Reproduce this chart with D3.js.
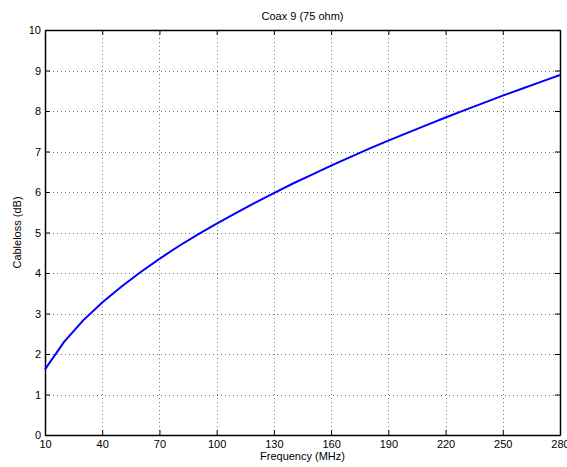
<!DOCTYPE html>
<html><head><meta charset="utf-8">
<script src="https://cdn.jsdelivr.net/npm/d3@7"></script>
<style>
body{margin:0;background:#fff;}
svg{display:block;font-family:"Liberation Sans",Arial,Helvetica,sans-serif;}
</style></head>
<body><svg id="c" width="567" height="467"></svg>
<script>
const freqs = [10,20,30,40,50,60,70,80,90,100,110,120,130,140,150,160,170,180,190,200,210,220,230,240,250,260,270,280];
const loss  = [1.62,2.30,2.83,3.27,3.66,4.02,4.35,4.66,4.95,5.22,5.48,5.73,5.97,6.21,6.43,6.65,6.86,7.07,7.27,7.46,7.65,7.84,8.02,8.20,8.38,8.55,8.72,8.89];
const xTicks = [10,40,70,100,130,160,190,220,250,280];
const yTicks = [0,1,2,3,4,5,6,7,8,9,10];
const title = "Coax 9 (75 ohm)";
const xLabel = "Frequency (MHz)";
const yLabel = "Cableloss (dB)";

const L=45,R=560,T=30,B=435;
const svg=d3.select("#c");
const x=d3.scaleLinear().domain([10,280]).range([L,R]);
const y=d3.scaleLinear().domain([0,10]).range([B,T]);

// grid
const g=svg.append("g");
g.selectAll(".gx").data(xTicks.slice(1,-1)).join("line")
 .attr("x1",d=>Math.round(x(d))+0.5).attr("x2",d=>Math.round(x(d))+0.5)
 .attr("y1",T).attr("y2",B).attr("stroke","#777").attr("stroke-width",1).attr("stroke-dasharray","1,3");
g.selectAll(".gy").data(yTicks.slice(1,-1)).join("line")
 .attr("y1",d=>Math.round(y(d))+0.5).attr("y2",d=>Math.round(y(d))+0.5)
 .attr("x1",L).attr("x2",R).attr("stroke","#777").attr("stroke-width",1).attr("stroke-dasharray","1,3");

// axes (ticks inward)
const ax=svg.append("g").attr("transform",`translate(0,${B})`)
 .call(d3.axisBottom(x).tickValues(xTicks).tickSizeInner(-5).tickSizeOuter(0).tickPadding(5));
const axt=svg.append("g").attr("transform",`translate(0,${T})`)
 .call(d3.axisTop(x).tickValues(xTicks).tickSizeInner(-5).tickSizeOuter(0).tickFormat(""));
const ay=svg.append("g").attr("transform",`translate(${L},0)`)
 .call(d3.axisLeft(y).tickValues(yTicks).tickSizeInner(-5).tickSizeOuter(0).tickPadding(4));
const ayr=svg.append("g").attr("transform",`translate(${R},0)`)
 .call(d3.axisRight(y).tickValues(yTicks).tickSizeInner(-5).tickSizeOuter(0).tickFormat(""));
[ax,axt,ay,ayr].forEach(a=>{
  a.selectAll("path").attr("stroke","#000").attr("stroke-width",1.5);
  a.selectAll("line").attr("stroke","#000").attr("stroke-width",1);
  a.selectAll("text").attr("fill","#000").style("font-size","11px").style("font-family","'Liberation Sans',Arial,sans-serif");
});

// line
svg.append("path").datum(freqs.map((f,i)=>[f,loss[i]]))
 .attr("fill","none").attr("stroke","#0000ff").attr("stroke-width",2)
 .attr("d",d3.line().x(d=>x(d[0])).y(d=>y(d[1])));

// texts
svg.append("text").attr("x",(L+R)/2).attr("y",20).attr("text-anchor","middle")
 .style("font-size","11px").text(title);
svg.append("text").attr("x",(L+R)/2).attr("y",460).attr("text-anchor","middle")
 .style("font-size","11px").text(xLabel);
svg.append("text").attr("transform",`translate(21,${(T+B)/2}) rotate(-90)`).attr("text-anchor","middle")
 .style("font-size","11px").text(yLabel);
</script></body></html>
